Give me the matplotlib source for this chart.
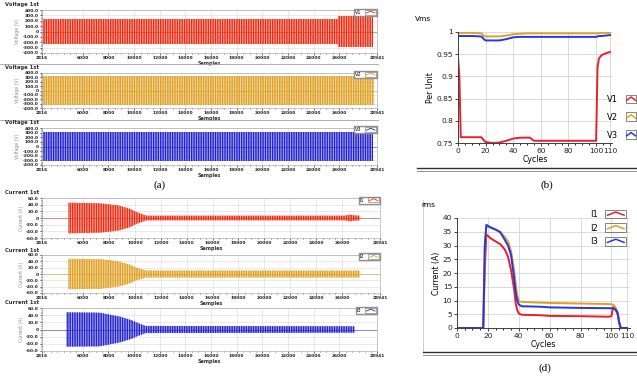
import matplotlib
matplotlib.use("Agg")
import matplotlib.pyplot as plt
from matplotlib.legend_handler import HandlerBase
from matplotlib.lines import Line2D
from matplotlib.patches import Rectangle
from matplotlib.ticker import FixedLocator, MultipleLocator, FuncFormatter

W, H = 637, 379

# ------- DADOS: formas de onda (envelope) -------
amostra_ini, amostra_fim = 2816, 28941
amostra_ticks = [6000, 8000, 10000, 12000, 14000, 16000, 18000, 20000, 22000, 24000, 26000]

v1_amostra = [2900, 25900, 25900, 28600]
v1_env = [235, 235, 290, 290]
v2_amostra = [2900, 28700]
v2_env = [330, 330]
v3_amostra = [2900, 28600]
v3_env = [320, 320]

i1_amostra = [4840, 4840, 7300, 8700, 9600, 10100, 10900, 26200, 26600, 27000, 27400, 27400]
i1_env = [0, 46, 44, 38, 28, 18, 7, 7, 10, 8, 7, 0]
i2_amostra = [4840, 4840, 7300, 8700, 9600, 10100, 10900, 27400, 27400]
i2_env = [0, 48, 47, 40, 30, 20, 11, 11, 0]
i3_amostra = [4700, 4700, 7300, 8900, 9800, 10300, 10900, 27200, 27200]
i3_env = [0, 48, 47, 36, 26, 18, 10, 9, 0]

# ------- DADOS: valores RMS por ciclo -------
ciclos_v = [0, 1, 2, 10, 17, 19, 20, 25, 30, 35, 40, 45, 50, 52, 55, 60, 80, 99, 100, 101, 102, 104, 107, 110]
v1_pu = [0.945, 0.90, 0.763, 0.763, 0.763, 0.755, 0.752, 0.750, 0.751, 0.755, 0.760, 0.762, 0.762, 0.762, 0.755, 0.755,
         0.755, 0.755, 0.755, 0.92, 0.94, 0.948, 0.952, 0.955]
v2_pu = [0.998, 0.998, 0.998, 0.998, 0.997, 0.991, 0.990, 0.990, 0.990, 0.992, 0.995, 0.996, 0.997, 0.997, 0.997, 0.997,
         0.997, 0.997, 0.997, 0.997, 0.997, 0.998, 0.998, 0.998]
v3_pu = [0.990, 0.991, 0.991, 0.991, 0.990, 0.983, 0.981, 0.981, 0.981, 0.984, 0.988, 0.989, 0.989, 0.989, 0.989, 0.989,
         0.989, 0.989, 0.989, 0.990, 0.991, 0.991, 0.992, 0.993]

ciclos_i = [0, 17, 18, 19, 22, 25, 28, 31, 33, 35, 37, 38, 39, 40, 42, 50, 55, 60, 80, 98, 100, 101, 102, 103, 104, 105, 106, 110]
i1_rms = [0, 0, 22, 34, 32.5, 31.5, 30.5, 28.5, 26, 21, 14, 9, 6.5, 5.3, 4.8, 4.7, 4.6, 4.4, 4.3, 4.1, 4.3, 7.5, 7.0, 6.2, 5.0, 2.0, 0, 0]
i2_rms = [0, 0, 30, 37, 36.5, 35.8, 35, 33, 31.5, 28, 21, 16, 12, 9.8, 9.5, 9.3, 9.2, 9.1, 8.9, 8.7, 8.6, 8.5, 8.0, 7.0, 5.5, 2.0, 0, 0]
i3_rms = [0, 0, 30, 37.5, 36.5, 35.8, 34.8, 32, 30, 26.5, 18, 13, 10, 8.5, 7.9, 7.8, 7.7, 7.5, 7.3, 7.2, 7.2, 7.2, 7.0, 6.5, 5.5, 2.0, 0, 0]

vermelho_onda, laranja_onda, azul_onda = '#f02a10', '#e0a020', '#2222d0'
vermelho, laranja, azul = '#e8202a', '#e0a020', '#2a35e0'


def ret(x0, y0, x1, y1):
    return [x0 / W, 1 - y1 / H, (x1 - x0) / W, (y1 - y0) / H]


class IconeOnda(HandlerBase):
    def __init__(self, lw_box=0.5, lw_ln=1.0):
        super().__init__()
        self.lw_box, self.lw_ln = lw_box, lw_ln

    def create_artists(self, legend, orig, xd, yd, w, h, fontsize, trans):
        caixa = Rectangle((-xd, -yd - 0.25 * h), w, 1.5 * h, fill=False, ec='#707070',
                          lw=self.lw_box, transform=trans)
        linha = Line2D([-xd + 0.1 * w, -xd + 0.5 * w, -xd + 0.9 * w],
                       [-yd + 0.3 * h, -yd + 0.85 * h, -yd + 0.3 * h],
                       color=orig.get_color(), lw=self.lw_ln, transform=trans)
        return [caixa, linha]


fig = plt.figure(figsize=(W / 100, H / 100), dpi=100)
fig.patch.set_facecolor('white')

fmt_1 = FuncFormatter(lambda v, p: '0' if v == 0 else f'{v:.1f}')


def painel_onda(rect, titulo, ylab, amostras, env, cor, ylim, passo, nome):
    ax = fig.add_axes(rect)
    ax.set_xlim(amostra_ini, amostra_fim)
    ax.set_ylim(-ylim, ylim)
    # linha do zero (antes / depois da perturbação)
    ax.plot([amostra_ini, amostra_fim], [0, 0], color=cor, lw=0.7, zorder=1)
    neg = [-e for e in env]
    ax.fill_between(amostras, neg, env, facecolor=matplotlib.colors.to_rgba(cor, 0.35),
                    edgecolor=cor, hatch='|||||||', linewidth=0, zorder=2)
    ax.xaxis.set_major_locator(FixedLocator([amostra_ini] + amostra_ticks + [amostra_fim]))
    ax.xaxis.set_minor_locator(MultipleLocator(500))
    ax.yaxis.set_major_locator(MultipleLocator(passo))
    ax.yaxis.set_minor_locator(MultipleLocator(passo / 4))
    ax.yaxis.set_major_formatter(fmt_1)
    ax.tick_params(labelsize=3.2, length=1.5, width=0.5, pad=1, colors='#202020')
    ax.tick_params(which='minor', length=0.8, width=0.4)
    for lab in ax.get_xticklabels() + ax.get_yticklabels():
        lab.set_fontweight('bold')
    ax.grid(True, color='#d8d8d8', lw=0.4)
    for s in ax.spines.values():
        s.set_color('#b0b0b0')
        s.set_linewidth(0.5)
    ax.set_xlabel('Samples', fontsize=3.5, fontweight='bold', labelpad=0.5, color='#303030')
    ax.set_ylabel(ylab, fontsize=3.3, labelpad=1.5, color='#909090')
    fig.text(rect[0] - 37 / W, rect[1] + rect[3] + 2.5 / H, titulo, fontsize=3.8, fontweight='bold',
             color='#303030', va='bottom')
    h = Line2D([], [], color=cor)
    ax.legend([h], [nome], loc='lower right', bbox_to_anchor=(1.0, 0.86), handler_map={Line2D: IconeOnda(0.4, 0.6)},
              markerfirst=False, fontsize=3.5, frameon=True, fancybox=False, edgecolor='#909090',
              framealpha=1, borderpad=0.2, handlelength=2.2, handletextpad=0.8, borderaxespad=0)
    return ax


# ---------- (a) tensões e correntes instantâneas ----------
painel_onda(ret(42, 10, 377, 53), 'Voltage 1st', 'Voltage (V)', v1_amostra, v1_env, vermelho_onda, 400, 100, 'V1')
painel_onda(ret(42, 73, 377, 108), 'Voltage 1st', 'Voltage (V)', v2_amostra, v2_env, laranja_onda, 400, 100, 'V2')
painel_onda(ret(42, 128, 377, 165), 'Voltage 1st', 'Voltage (V)', v3_amostra, v3_env, azul_onda, 400, 100, 'V3')

painel_onda(ret(42, 198, 380, 238), 'Current 1st', 'Current (A)', i1_amostra, i1_env, vermelho_onda, 60, 20, 'I1')
painel_onda(ret(42, 255, 380, 293), 'Current 1st', 'Current (A)', i2_amostra, i2_env, laranja_onda, 60, 20, 'I2')
painel_onda(ret(42, 308, 377, 351), 'Current 1st', 'Current (A)', i3_amostra, i3_env, azul_onda, 60, 20, 'I3')

for y in (64, 120):
    fig.add_artist(Line2D([0, 378 / W], [1 - y / H, 1 - y / H], color='#a0a0a0', lw=0.6))

fig.text(160 / W, 1 - 185 / H, '(a)', fontsize=8, family='Liberation Serif', ha='center', va='center')


def painel_rms(rect, xlim, ciclos, series, cores, nomes, ylim, passo, ylab, topo, leg_xy, leg_sp, leg_hl):
    ax = fig.add_axes(rect)
    for s, c, n in zip(series, cores, nomes):
        ax.plot(ciclos, s, color=c, lw=1.4, label=n)
    ax.set_xlim(*xlim)
    ax.set_ylim(*ylim)
    ax.xaxis.set_major_locator(FixedLocator([0, 20, 40, 60, 80, 100, 110]))
    ax.xaxis.set_minor_locator(MultipleLocator(5))
    ax.yaxis.set_major_locator(MultipleLocator(passo))
    ax.yaxis.set_major_formatter(FuncFormatter(lambda v, p: f'{v:g}'))
    ax.tick_params(labelsize=5.4, length=2, width=0.6, pad=1.5, colors='#202020')
    ax.tick_params(which='minor', length=1.5, width=0.6)
    ax.grid(True, color='#d4d4d4', lw=0.6)
    ax.set_axisbelow(True)
    ax.spines['top'].set_visible(False)
    ax.spines['right'].set_visible(False)
    for s in ('left', 'bottom'):
        ax.spines[s].set_color('#404040')
        ax.spines[s].set_linewidth(0.7)
    ax.set_xlabel('Cycles', fontsize=5.6, labelpad=0.5)
    ax.set_ylabel(ylab, fontsize=5.6, labelpad=1)
    fig.text(topo[0] / W, 1 - topo[1] / H, topo[2], fontsize=5.4, va='center')
    ax.legend(loc='upper left', bbox_to_anchor=(leg_xy[0] / W, 1 - leg_xy[1] / H),
              bbox_transform=fig.transFigure, handler_map={Line2D: IconeOnda(0.6, 1.1)},
              markerfirst=False, fontsize=6.0, frameon=False, borderpad=0, handlelength=leg_hl,
              handletextpad=0.9, labelspacing=leg_sp, borderaxespad=0)
    return ax


painel_rms(ret(458, 32, 612, 143), (0, 111.5), ciclos_v, [v1_pu, v2_pu, v3_pu], [vermelho, laranja, azul],
           ['V1', 'V2', 'V3'], (0.75, 1.0), 0.05, 'Per Unit', (415, 19, 'Vms'), (607, 95), 1.05, 1.3)
fig.add_artist(Line2D([417 / W, 1], [1 - 168 / H] * 2, color='#303030', lw=1.0))
fig.add_artist(Line2D([417 / W, 1], [1 - 170.5 / H] * 2, color='#808080', lw=0.6))
fig.text(547 / W, 1 - 185 / H, '(b)', fontsize=8, family='Liberation Serif', ha='center', va='center')

painel_rms(ret(457, 218, 630, 328), (0, 112), ciclos_i, [i1_rms, i2_rms, i3_rms], [vermelho, laranja, azul],
           ['I1', 'I2', 'I3'], (0, 40), 5, 'Current (A)', (421, 205, 'rms'), (590, 210), 0.55, 2.5)
fig.add_artist(Line2D([423 / W, 423 / W], [1 - 200 / H, 1 - 352 / H], color='#c8c8c8', lw=0.6))
fig.add_artist(Line2D([423 / W, 1], [1 - 352 / H] * 2, color='#303030', lw=1.0))
fig.add_artist(Line2D([423 / W, 1], [1 - 354.5 / H] * 2, color='#808080', lw=0.6))
fig.text(545 / W, 1 - 368 / H, '(d)', fontsize=8, family='Liberation Serif', ha='center', va='center')

fig.savefig('out.png', dpi=100)
